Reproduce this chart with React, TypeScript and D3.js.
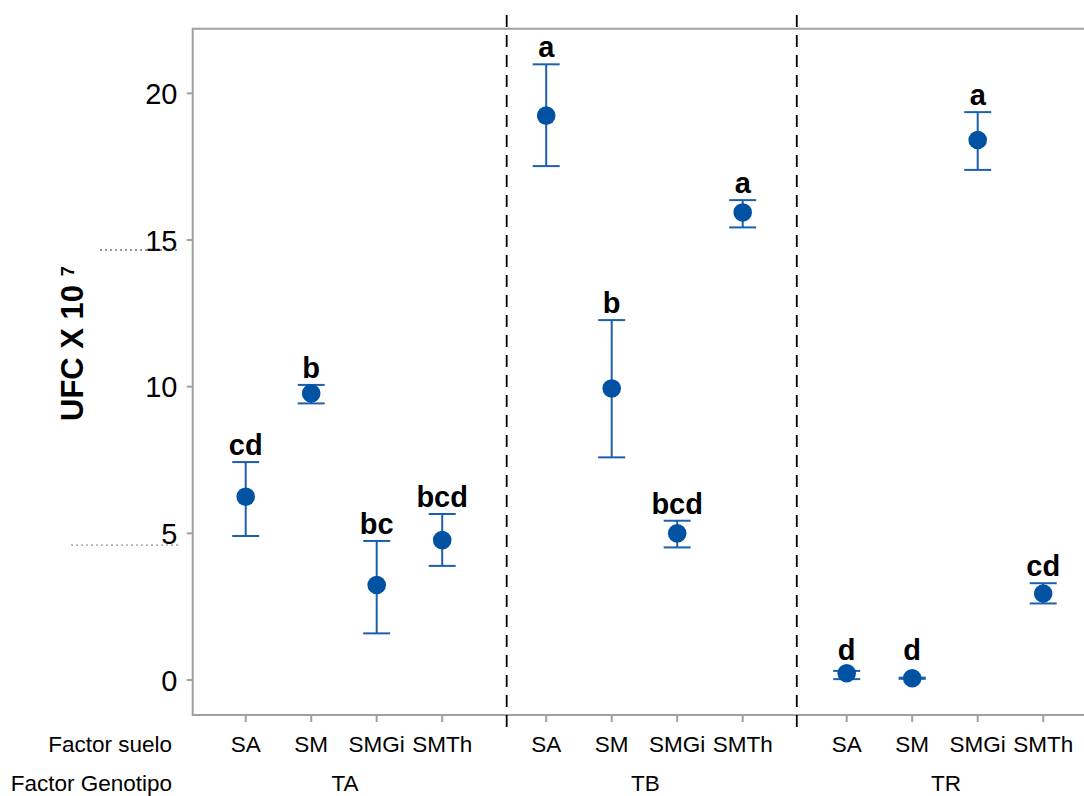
import React, { useRef, useEffect } from 'react'
import * as d3 from 'd3'

// soil factor (inner) and genotype factor (outer)
const soils = ['SA', 'SM', 'SMGi', 'SMTh']
const genotypes = ['TA', 'TB', 'TR']

// means and error bar limits, UFC x 10^7
const meanTA = [6.25, 9.77, 3.24, 4.77]
const meanTB = [19.24, 9.94, 5.0, 15.94]
const meanTR = [0.23, 0.06, 18.41, 2.95]
const upperTA = [7.43, 10.06, 4.74, 5.66]
const upperTB = [20.99, 12.27, 5.43, 16.36]
const upperTR = [0.31, 0.08, 19.36, 3.3]
const lowerTA = [4.91, 9.43, 1.59, 3.89]
const lowerTB = [17.52, 7.59, 4.52, 15.43]
const lowerTR = [0.03, 0.04, 17.39, 2.61]
const lettersTA = ['cd', 'b', 'bc', 'bcd']
const lettersTB = ['a', 'b', 'bcd', 'a']
const lettersTR = ['d', 'd', 'a', 'cd']

const yTicks = [0, 5, 10, 15, 20]
// where the dashed separators sit inside the gap after each group (fraction of gap)
const dividerFrac = [0.62, 0.52]
// stray dotted guides left of the axis
const strayGuides = [14.66, 4.6]

const W = 1084
const H = 796
const FONT = "'Liberation Sans', Arial, Helvetica, sans-serif"
const AXIS = '#a0a0a0'
const BLUE = '#0252a3'
const LINE = '#1d5fae'

export default function App() {
  const svgRef = useRef<SVGSVGElement>(null)

  useEffect(() => {
    const svg = d3.select(svgRef.current)
    svg.selectAll('*').remove()

    const left = 192.7, top = 28.7, bottom = 715

    const y = d3.scaleLinear().domain([-1.193, 22.204]).range([bottom, top])
    const gx = d3.scalePoint<string>().domain(genotypes).range([245.7, 846.7])
    const sx = d3.scalePoint<string>().domain(soils).range([0, 196.5])
    const xOf = (g: string, s: string) => (gx(g) as number) + (sx(s) as number)

    const means = [meanTA, meanTB, meanTR]
    const uppers = [upperTA, upperTB, upperTR]
    const lowers = [lowerTA, lowerTB, lowerTR]
    const letters = [lettersTA, lettersTB, lettersTR]
    const rows = genotypes.flatMap((g, gi) => soils.map((s, si) => ({
      g, s, m: means[gi][si], hi: uppers[gi][si], lo: lowers[gi][si], l: letters[gi][si]
    })))

    // frame: left, top, bottom (right side runs off the picture)
    svg.append('path')
      .attr('d', `M${W + 10},${top}H${left}V${bottom}H${W + 10}`)
      .attr('fill', 'none').attr('stroke', AXIS).attr('stroke-width', 2)

    // y ticks
    const yg = svg.append('g')
    yg.selectAll('line').data(yTicks).enter().append('line')
      .attr('x1', left - 6).attr('x2', left).attr('y1', d => y(d)).attr('y2', d => y(d))
      .attr('stroke', AXIS).attr('stroke-width', 2)
    yg.selectAll('text').data(yTicks).enter().append('text')
      .attr('x', 177.5).attr('y', d => y(d) + 10.5)
      .attr('text-anchor', 'end').attr('font-family', FONT).attr('font-size', 29)
      .attr('fill', '#000').text(d => d)

    svg.selectAll('.stray').data(strayGuides).enter().append('line')
      .attr('class', 'stray')
      .attr('x1', (d, i) => (i === 0 ? 100 : 71)).attr('x2', 178)
      .attr('y1', d => y(d)).attr('y2', d => y(d))
      .attr('stroke', (d, i) => (i === 0 ? '#333' : '#777')).attr('stroke-width', 1)
      .attr('stroke-dasharray', '2,3')

    // y label
    const yl = svg.append('text')
      .attr('transform', 'translate(83,421) rotate(-90)')
      .attr('font-family', FONT).attr('font-weight', 'bold').attr('font-size', 31)
      .attr('fill', '#000')
    yl.append('tspan').text('UFC X 10 ')
    yl.append('tspan').attr('dy', -9).attr('font-size', 18).text('7')

    // x ticks and labels
    svg.selectAll('.xt').data(rows).enter().append('line')
      .attr('class', 'xt')
      .attr('x1', d => xOf(d.g, d.s)).attr('x2', d => xOf(d.g, d.s))
      .attr('y1', bottom).attr('y2', bottom + 7)
      .attr('stroke', AXIS).attr('stroke-width', 2)
    svg.selectAll('.xl').data(rows).enter().append('text')
      .attr('class', 'xl')
      .attr('x', d => xOf(d.g, d.s)).attr('y', 752)
      .attr('text-anchor', 'middle').attr('font-family', FONT).attr('font-size', 22.5)
      .attr('fill', '#000').text(d => d.s)
    svg.selectAll('.gl').data(genotypes).enter().append('text')
      .attr('class', 'gl')
      .attr('x', g => (gx(g) as number) + 98.25 + 1).attr('y', 791)
      .attr('text-anchor', 'middle').attr('font-family', FONT).attr('font-size', 22.5)
      .attr('fill', '#000').text(g => g)
    svg.append('text').attr('x', 172).attr('y', 752)
      .attr('text-anchor', 'end').attr('font-family', FONT).attr('font-size', 22.5)
      .text('Factor suelo')
    svg.append('text').attr('x', 172).attr('y', 791)
      .attr('text-anchor', 'end').attr('font-family', FONT).attr('font-size', 22.5)
      .text('Factor Genotipo')

    // dashed separators between genotypes
    const lastS = soils[soils.length - 1]
    const divs = genotypes.slice(0, -1).map((g, i) => {
      const a = xOf(g, lastS)
      const b = xOf(genotypes[i + 1], soils[0])
      return a + (b - a) * dividerFrac[i]
    })
    svg.selectAll('.div').data(divs).enter().append('line')
      .attr('class', 'div')
      .attr('x1', d => d).attr('x2', d => d).attr('y1', 15).attr('y2', 728)
      .attr('stroke', '#000').attr('stroke-width', 1.8).attr('stroke-dasharray', '12,8')

    // error bars
    const eb = svg.append('g')
    const capW = 13.5
    rows.forEach(d => {
      const cx = xOf(d.g, d.s)
      eb.append('line').attr('x1', cx).attr('x2', cx).attr('y1', y(d.hi)).attr('y2', y(d.lo))
        .attr('stroke', LINE).attr('stroke-width', 2)
      ;[d.hi, d.lo].forEach(v => {
        eb.append('line').attr('x1', cx - capW).attr('x2', cx + capW)
          .attr('y1', y(v)).attr('y2', y(v))
          .attr('stroke', LINE).attr('stroke-width', 2)
      })
    })

    svg.selectAll('.pt').data(rows).enter().append('circle')
      .attr('class', 'pt')
      .attr('cx', d => xOf(d.g, d.s)).attr('cy', d => y(d.m)).attr('r', 9.3)
      .attr('fill', BLUE)

    svg.selectAll('.let').data(rows).enter().append('text')
      .attr('class', 'let')
      .attr('x', d => xOf(d.g, d.s)).attr('y', d => y(Math.max(d.hi, 0.45)) - 7)
      .attr('text-anchor', 'middle').attr('font-family', FONT).attr('font-weight', 'bold')
      .attr('font-size', 29).attr('fill', '#000').text(d => d.l)
  }, [])

  return (
    <svg ref={svgRef} width={W} height={H}
      style={{ position: 'absolute', left: 0, top: 0, background: '#fff' }} />
  )
}
